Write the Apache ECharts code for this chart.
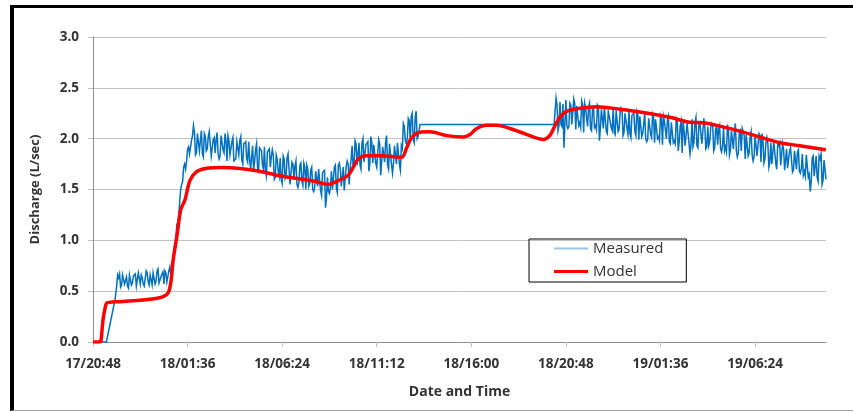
<!DOCTYPE html>
<html>
<head>
<meta charset="utf-8">
<script src="https://cdn.jsdelivr.net/npm/echarts@6/dist/echarts.min.js"></script>
<style>
  html, body { margin: 0; padding: 0; background: #fff; }
  #chart { position: absolute; left: 0; top: 0; width: 853px; height: 412px; }
  #frame { position: absolute; left: 10px; top: 5px; width: 839px; height: 402px;
           border-top: 3px solid #000; border-left: 4px solid #000; border-bottom: 1px solid #a6a6a6;
           pointer-events: none; }
</style>
</head>
<body>
<div id="chart"></div>
<div id="frame"></div>
<script>
// ---- tick labels (x axis every 4.8 h starting 17/20:48) ----
const xTickLabels = ['17/20:48','18/01:36','18/06:24','18/11:12','18/16:00','18/20:48','19/01:36','19/06:24'];
const xTickStepHours = 4.8;
const xMaxHours = 37.2;

// ---- Model (hours since 17/20:48, L/sec) ----
const modelHours = [0, 0.36, 0.41, 0.51, 0.61, 0.71, 1.12, 1.52, 2.39, 3.25, 3.60, 3.83, 3.96, 4.07, 4.28, 4.45, 4.67, 4.92, 5.26, 5.77, 6.61, 8.31, 9.49, 11.18, 11.94, 12.36, 12.95, 13.21, 13.46, 13.89, 14.56, 15.66, 15.92, 16.17, 16.59, 17.10, 17.95, 18.79, 19.13, 19.47, 19.98, 20.48, 21.16, 22.00, 22.85, 23.19, 23.44, 23.69, 24.03, 24.71, 25.56, 26.74, 27.92, 29.28, 30.29, 31.05, 31.81, 32.83, 33.84, 34.86, 35.87, 37.19];
const modelValues = [0, 0, 0.02, 0.22, 0.33, 0.385, 0.395, 0.398, 0.41, 0.43, 0.45, 0.49, 0.6, 0.81, 1.07, 1.30, 1.40, 1.59, 1.675, 1.71, 1.717, 1.685, 1.635, 1.583, 1.55, 1.58, 1.64, 1.72, 1.80, 1.833, 1.833, 1.817, 1.91, 2.01, 2.064, 2.067, 2.03, 2.016, 2.04, 2.10, 2.132, 2.132, 2.10, 2.043, 1.993, 2.033, 2.126, 2.21, 2.268, 2.30, 2.315, 2.29, 2.258, 2.21, 2.161, 2.155, 2.123, 2.074, 2.016, 1.96, 1.93, 1.89];

// ---- Measured (hours since 17/20:48, L/sec) ----
// readings on the tenth of an hour ("A") and between them ("B", +0.05 h)
const measuredStartHours = [0, 0.68, 1.12];
const measuredStartValues = [0, 0, 0.42];
const bandStep = 0.1;

const band1Start = 1.2;
const band1A = [0.55,0.63,0.54,0.66,0.57,0.64,0.53,0.67,0.58,0.65,
                0.55,0.68,0.57,0.63,0.55,0.70,0.59,0.66,0.56,0.69,
                0.60,0.72,0.58,0.67,0.57,0.68,0.60,0.74,0.70,0.85,
                1.00,1.18,1.38,1.55,1.72,1.70,1.90,1.85];
const band1B = [0.66,0.67,0.56,0.65,0.57,0.55,0.66,0.56,0.65,0.67,
                0.56,0.67,0.66,0.57,0.55,0.68,0.56,0.66,0.68,0.57,
                0.70,0.58,0.59,0.69,0.70,0.59,0.70,
                0.66,0.82,0.88,1.15,1.24,1.50,1.58,1.75,1.78,1.92];

const band2Start = 5.0;
const band2A = [1.98,2.13,1.84,2.05,1.88,2.08,1.82,2.02,1.90,2.07,
                1.83,1.99,1.86,2.06,1.80,2.03,1.89,2.05,1.78,1.98,
                1.85,2.01,1.77,1.97,1.84,2.02,1.75,1.95,1.80,1.97,
                1.70,1.93,1.77,1.95,1.66,1.90,1.74,1.92,1.63,1.86,
                1.72,1.89,1.60,1.84,1.68,1.81,1.56,1.80,1.64,1.85,
                1.55,1.77,1.60,1.78,1.52,1.74,1.58,1.76,1.50,1.70,
                1.56,1.72,1.48,1.68,1.53,1.70,1.44,1.66,1.32,1.62,
                1.46,1.68,1.50,1.74,1.47,1.76,1.53,1.72,1.49,1.78,
                1.55,1.80,1.72,1.98,1.74,1.96,1.70,2.00,1.78,1.95,
                1.68,2.02,1.76,1.94,1.72,1.99,1.64,1.92,1.77,2.03,
                1.70,1.96,1.66,1.93,1.75,1.97,1.69,1.90,2.12,1.95,
                2.20,1.98,2.25,1.96,2.27,2.02];
const band2B = [2.03,2.06,1.86,2.04,1.87,1.85,2.05,1.88,2.02,2.06,
                1.84,2.01,1.99,1.85,1.83,2.02,1.86,1.98,2.03,1.84,
                1.97,1.78,1.80,1.96,1.98,1.79,1.95,1.97,1.77,1.80,
                1.71,1.69,1.89,1.72,1.91,1.88,1.70,1.68,1.87,1.90,
                1.82,1.84,1.62,1.80,1.63,1.60,1.83,1.61,1.81,1.85,
                1.56,1.75,1.73,1.55,1.57,1.76,1.54,1.72,1.74,1.53,
                1.69,1.50,1.52,1.68,1.70,1.49,1.67,1.69,1.42,1.48,
                1.52,1.50,1.72,1.51,1.74,1.70,1.53,1.49,1.73,1.75,
                1.71,1.93,1.76,1.95,1.75,1.74,1.96,1.77,1.94,1.97,
                1.75,1.96,1.94,1.76,1.73,1.95,1.77,1.93,1.97,1.74,
                1.95,1.74,1.76,1.94,1.96,1.75,1.93,2.15,1.98,2.00,
                2.18,2.22,1.99,2.21,2.00];

const gapHours = [16.6, 23.4];
const gapValues = [2.14, 2.14];

const band3Start = 23.5;
const band3A = [2.40,2.08,2.36,2.12,1.91,2.38,2.10,2.35,2.14,2.39,
                2.09,2.33,2.16,2.37,2.06,2.30,2.12,2.35,2.08,2.31,
                2.13,2.33,1.98,2.29,2.10,2.32,2.05,2.28,2.11,2.31,
                2.04,2.27,2.09,2.30,2.03,2.25,2.10,2.28,2.01,2.24,
                2.07,2.27,1.99,2.22,2.05,2.25,1.97,2.20,2.04,2.24,
                1.96,2.19,2.02,2.23,1.94,2.17,2.00,2.22,1.95,2.15,
                1.98,2.20,1.88,2.12,1.86,2.18,1.92,2.14,1.85,2.19,
                1.96,2.21,1.91,2.16,1.95,2.20,1.90,2.12,1.97,2.15,
                1.88,2.10,1.94,2.13,1.87,2.11,1.92,2.14,1.84,2.08,
                1.90,2.15,1.82,2.06,1.88,2.10,1.80,2.04,1.86,2.07,
                1.78,2.03,1.83,2.05,1.77,1.99,1.80,2.01,1.72,1.96,
                1.76,1.98,1.70,1.93,1.74,1.95,1.69,1.90,1.72,1.91,
                1.67,1.88,1.70,1.89,1.66,1.85,1.68,1.84,1.62,1.48,
                1.81,1.63,1.83,1.58,1.80,1.55,1.79,1.60];
const band3B = [2.33,2.13,2.14,2.34,2.15,
                2.13,2.12,2.33,2.14,2.34,2.32,2.13,2.11,2.33,2.35,
                2.30,2.31,2.10,2.29,2.11,2.09,2.31,2.10,2.30,2.32,
                2.07,2.27,2.26,2.08,2.06,2.28,2.07,2.26,2.27,2.06,
                2.24,2.04,2.05,2.23,2.25,2.03,2.24,2.22,2.02,2.05,
                2.00,1.99,2.20,2.01,2.21,2.19,2.00,1.98,2.20,2.22,
                2.17,2.18,1.97,2.16,1.96,1.95,2.18,1.97,2.17,2.19,
                1.93,2.15,2.14,1.94,1.92,2.16,1.93,2.14,2.15,1.95,
                2.12,1.92,1.93,2.11,2.13,1.91,2.12,2.10,1.90,1.93,
                1.88,1.87,2.08,1.89,2.09,2.07,1.88,1.86,2.08,2.10,
                2.03,2.04,1.83,2.02,1.84,1.82,2.04,1.83,2.03,2.05,
                1.76,1.96,1.95,1.77,1.75,1.97,1.76,1.95,1.96,1.74,
                1.89,1.70,1.71,1.88,1.90,1.69,1.88,1.87,1.68,1.71,
                1.64,1.63,1.84,1.65,1.58,1.83,1.64,1.62,1.83,1.85,
                1.59,1.80];

function pairs(hours, vals) { return hours.map((h, i) => [h, vals[i]]); }
function seg(start, vals) { return vals.map((v, i) => [+(start + i * bandStep).toFixed(2), v]); }

const measuredData = [].concat(
  pairs(measuredStartHours, measuredStartValues),
  seg(band1Start, band1A), seg(band1Start + bandStep / 2, band1B),
  seg(band2Start, band2A), seg(band2Start + bandStep / 2, band2B),
  pairs(gapHours, gapValues),
  seg(band3Start, band3A), seg(band3Start + bandStep / 2, band3B)
).sort((a, b) => a[0] - b[0]);
const modelData = pairs(modelHours, modelValues);

const FONT = '"Open Sans", "Liberation Sans", sans-serif';
const chart = echarts.init(document.getElementById('chart'), null, { renderer: 'canvas' });
chart.setOption({
  animation: false,
  backgroundColor: '#fff',
  grid: { left: 93, right: 27, top: 37, bottom: 70 },
  legend: {
    orient: 'vertical',
    left: 529, top: 239,
    borderColor: '#000', borderWidth: 1,
    padding: [2, 23, 3, 25],
    itemWidth: 34, itemHeight: 14, itemGap: 8,
    textStyle: { fontFamily: FONT, fontSize: 15, color: '#333', lineHeight: 15 },
    data: [
      { name: 'Measured', icon: 'path://M0,0 L34,0 L34,2 L0,2 Z', itemStyle: { color: '#9cc5ea' } },
      { name: 'Model', icon: 'path://M0,0 L34,0 L34,3 L0,3 Z', itemStyle: { color: '#ff0000' } }
    ]
  },
  xAxis: [{
    type: 'value', min: 0, max: xMaxHours, interval: xTickStepHours,
    name: 'Date and Time', nameLocation: 'middle', nameGap: 43,
    nameTextStyle: { fontFamily: FONT, fontSize: 14, fontWeight: 'bold', color: '#333' },
    axisLine: { show: true, lineStyle: { color: '#bfbfbf' } },
    axisTick: { show: true, length: 5, lineStyle: { color: '#bfbfbf' } },
    splitLine: { show: false },
    axisLabel: {
      margin: 15, showMaxLabel: false,
      fontFamily: FONT, fontSize: 13.5, fontWeight: 'bold', color: '#333',
      formatter: function (v) {
        const k = Math.round(v / xTickStepHours);
        return Math.abs(k * xTickStepHours - v) < 1e-6 && k < xTickLabels.length ? xTickLabels[k] : '';
      }
    }
  }, {
    type: 'value', position: 'top', min: 0, max: 1,
    axisLine: { show: true, lineStyle: { color: '#8f8f8f' } },
    axisTick: { show: false }, axisLabel: { show: false }, splitLine: { show: false }
  }],
  yAxis: [{
    type: 'value', min: 0, max: 3, interval: 0.5,
    name: 'Discharge (L/sec)', nameLocation: 'middle', nameGap: 51, nameRotate: 90,
    nameTextStyle: { fontFamily: FONT, fontSize: 13, fontWeight: 'bold', color: '#333' },
    axisLine: { show: true, lineStyle: { color: '#bfbfbf' } },
    axisTick: { show: true, length: 5, lineStyle: { color: '#bfbfbf' } },
    splitLine: { show: true, lineStyle: { color: '#c3c3c3', width: 1 } },
    axisLabel: { margin: 14, fontFamily: FONT, fontSize: 13.5, fontWeight: 'bold', color: '#333',
                 formatter: v => v.toFixed(1) }
  }, {
    type: 'value', position: 'right', min: 0, max: 1,
    axisLine: { show: true, lineStyle: { color: '#8f8f8f' } },
    axisTick: { show: false }, axisLabel: { show: false }, splitLine: { show: false }
  }],
  series: [{
    name: 'Measured', type: 'line', data: measuredData,
    showSymbol: false, symbol: 'none', z: 2,
    lineStyle: { color: '#0070c0', width: 1.5, join: 'miter' },
    itemStyle: { color: '#0070c0' }
  }, {
    name: 'Model', type: 'line', data: modelData,
    showSymbol: false, symbol: 'none', smooth: 0.3, z: 3,
    lineStyle: { color: '#ff0000', width: 3.5 },
    itemStyle: { color: '#ff0000' }
  }]
});
</script>
</body>
</html>
